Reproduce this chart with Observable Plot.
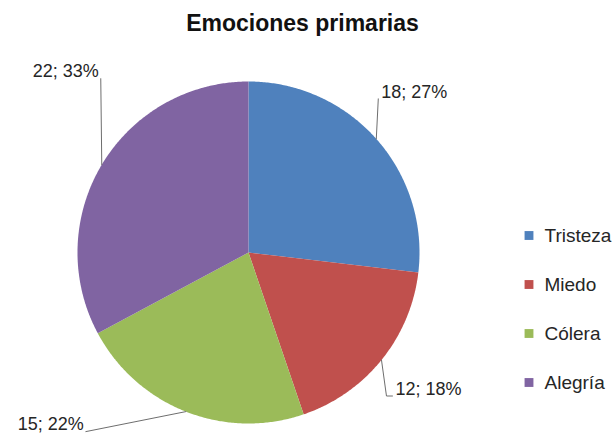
<!DOCTYPE html>
<html>
<head>
<meta charset="utf-8">
<script src="https://cdn.jsdelivr.net/npm/d3@7"></script>
<script src="https://cdn.jsdelivr.net/npm/@observablehq/plot@0.6"></script>
<style>
  html, body { margin: 0; padding: 0; background: #fff; }
  #wrap { position: relative; width: 614px; height: 434px; overflow: hidden; }
  #wrap svg { position: absolute; top: 0; }
</style>
</head>
<body>
<div id="wrap"></div>
<script>
// ---- data ----
const title = "Emociones primarias";
const categories = ["Tristeza", "Miedo", "Cólera", "Alegría"];
const values = [18, 12, 15, 22];
const colors = ["#4F81BD", "#C0504D", "#9BBB59", "#8064A2"];

// ---- layout (pixels) ----
const CX = 248, CY = 252, R = 171;
// leader elbow offset from slice mid-arc point, then horizontal tail, text side
const leaderLayout = [
  {dx: 2, dy: -40, tail: 0, side: "start"},
  {dx: 5, dy: 36, tail: 6, side: "start"},
  {dx: -100, dy: 20, tail: 0, side: "end"},
  {dx: -1, dy: -86, tail: 0, side: "end"}
];

const rows = categories.map((c, i) => ({cat: c, value: values[i]}));
const total = d3.sum(values);
const arcs = d3.pie().sort(null).value(d => d.value)(rows);

// slice polygons from the pie angles
const poly = [];
arcs.forEach(a => {
  poly.push({cat: a.data.cat, x: 0, y: 0});
  const n = Math.max(2, Math.ceil((a.endAngle - a.startAngle) / (Math.PI / 360)));
  for (let k = 0; k <= n; k++) {
    const t = a.startAngle + (a.endAngle - a.startAngle) * k / n;
    poly.push({cat: a.data.cat, x: Math.sin(t), y: Math.cos(t)});
  }
});

// leader lines and labels
const leaders = [];
const labels = [];
arcs.forEach((a, i) => {
  const m = (a.startAngle + a.endAngle) / 2;
  const mx = Math.sin(m), my = Math.cos(m);
  const L = leaderLayout[i];
  const ex = mx + L.dx / R, ey = my - L.dy / R;
  const tx = ex + L.tail / R;
  leaders.push({cat: a.data.cat, x: mx, y: my});
  leaders.push({cat: a.data.cat, x: ex, y: ey});
  if (L.tail) leaders.push({cat: a.data.cat, x: tx, y: ey});
  labels.push({
    x: tx, y: ey, side: L.side,
    text: `${a.data.value}; ${Math.round(a.data.value / total * 100)}%`
  });
});

const font = "Liberation Sans, Arial, sans-serif";
const textColor = "#262626";

const pie = Plot.plot({
  width: 614, height: 434, margin: 0,
  style: {background: "transparent", fontFamily: font},
  x: {domain: [-1, 1], range: [CX - R, CX + R], axis: null},
  y: {domain: [-1, 1], range: [CY + R, CY - R], axis: null},
  color: {domain: categories, range: colors},
  marks: [
    Plot.line(poly, {x: "x", y: "y", z: "cat", fill: "cat", stroke: null, curve: "linear"}),
    Plot.line(leaders, {x: "x", y: "y", z: "cat", stroke: "#6e6e6e", strokeWidth: 1}),
    Plot.text(labels.filter(d => d.side === "start"), {
      x: "x", y: "y", text: "text", textAnchor: "start", dx: 3, dy: -7,
      fontSize: 18, fill: textColor
    }),
    Plot.text(labels.filter(d => d.side === "end"), {
      x: "x", y: "y", text: "text", textAnchor: "end", dx: -2, dy: -7,
      fontSize: 18, fill: textColor
    }),
    Plot.text([title], {
      frameAnchor: "top", lineAnchor: "middle", dx: -5, dy: 23,
      fontSize: 23, fontWeight: "bold", fill: "#111"
    })
  ]
});
pie.style.left = "0px";

const legend = Plot.plot({
  width: 100, height: 434, margin: 0,
  style: {background: "transparent", fontFamily: font},
  x: {domain: [0, 1], range: [0, 100], axis: null},
  y: {type: "point", domain: categories, range: [210, 407], axis: null},
  color: {domain: categories, range: colors},
  marks: [
    Plot.dot(categories, {y: d => d, frameAnchor: "left", dx: 14.5, symbol: "square", r: 5, fill: d => d, stroke: null}),
    Plot.text(categories, {y: d => d, frameAnchor: "left", dx: 30, text: d => d, textAnchor: "start", fontSize: 19, fill: textColor})
  ]
});
legend.style.left = "514px";

const wrap = document.getElementById("wrap");
wrap.appendChild(pie);
wrap.appendChild(legend);
</script>
</body>
</html>
